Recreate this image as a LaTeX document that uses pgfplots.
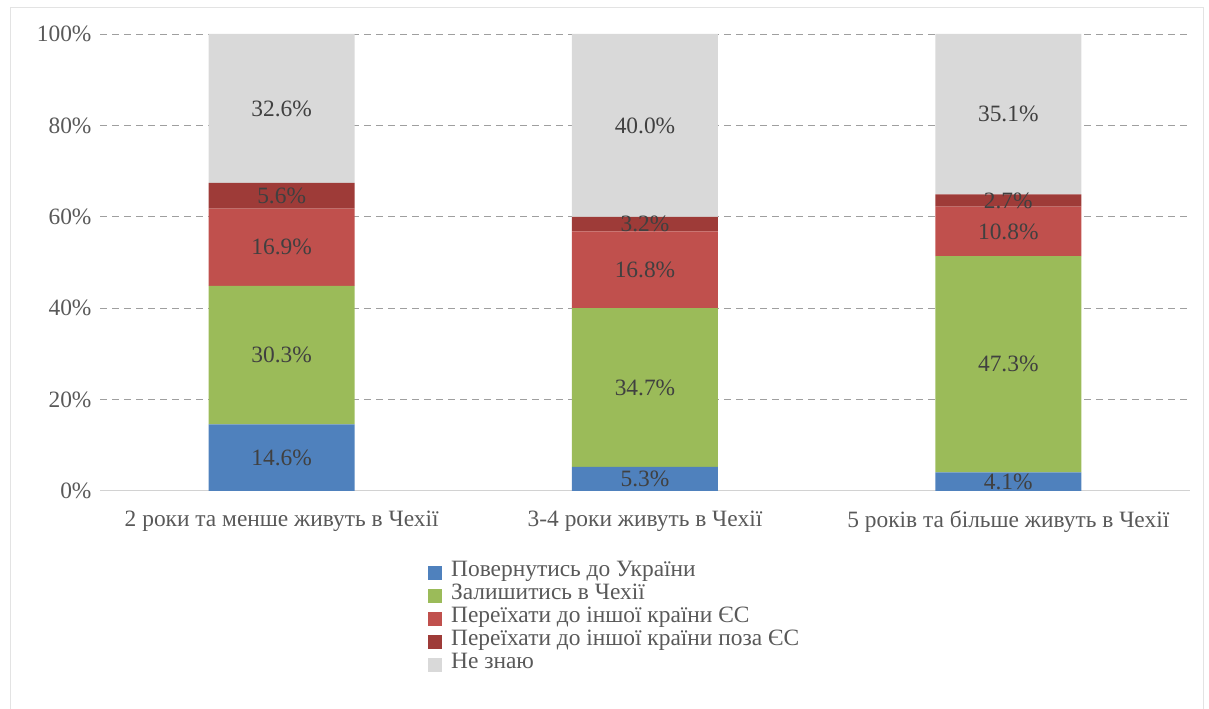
\documentclass[border=0pt]{standalone}
\usepackage{pgfplots}
\pgfplotsset{compat=1.18}
\usepackage{fontspec}
\setmainfont{Liberation Serif}

\definecolor{cBlue}{HTML}{4F81BD}
\definecolor{cGreen}{HTML}{9BBB59}
\definecolor{cRed}{HTML}{C0504D}
\definecolor{cDark}{HTML}{9E3B38}
\definecolor{cGray}{HTML}{D9D9D9}
\definecolor{txt}{HTML}{595959}
\definecolor{lbl}{HTML}{404040}

\pgfplotsset{
  sq legend/.style={legend image code/.code={%
    \fill[##1] (0bp,-7bp) rectangle (14bp,7bp);
    \path (23bp,0bp);}},
  frame/.style={at={(100bp,218bp)}, anchor=south west,
    scale only axis, width=1090bp, height=457bp,
    xmin=-0.5, xmax=2.5, ymin=0, ymax=100},
}
\newcommand\bigfont{\fontsize{23.5}{26}\selectfont}

\begin{document}
\begin{tikzpicture}
\path[use as bounding box] (0,0) rectangle (1209bp,709bp);
\draw[gray!22, line width=1bp] (10bp,0bp) -- (10bp,701bp) -- (1203bp,701bp) -- (1203bp,0bp);
\begin{axis}[
  frame,
  ybar stacked, bar width=146bp,
  axis line style={draw=none}, tick style={draw=none},
  major tick length=0pt,
  xtick={0,1,2},
  xticklabels={2 роки та менше живуть в Чехії, 3-4 роки живуть в Чехії, 5 років та більше живуть в Чехії},
  ytick={20,40,60,80,100},
  yticklabels={20\%,40\%,60\%,80\%,100\%},
  extra y ticks={0}, extra y tick labels={0\%},
  extra y tick style={grid style={solid, draw=gray!35, line width=1bp}},
  ymajorgrids,
  grid style={draw=gray!75, line width=0.9bp, dash pattern=on 7bp off 5bp},
  ticklabel style={font=\bigfont, text=txt},
  xticklabel style={yshift=-16bp},
  yticklabel style={xshift=-5bp},
  legend cell align=left,
  legend style={at={(rel axis cs:0.3009,-0.154)}, anchor=north west, draw=none,
    inner sep=0pt, row sep=0pt,
    nodes={inner sep=0pt, text height=15bp, text depth=8bp, font=\bigfont, text=txt}},
]
\addplot[fill=cBlue, draw=none, sq legend] coordinates {(0,14.6) (1,5.3) (2,4.1)};
\addlegendentry{Повернутись до України}
\addplot[fill=cGreen, draw=none, sq legend] coordinates {(0,30.3) (1,34.7) (2,47.3)};
\addlegendentry{Залишитись в Чехії}
\addplot[fill=cRed, draw=none, sq legend] coordinates {(0,16.9) (1,16.8) (2,10.8)};
\addlegendentry{Переїхати до іншої країни ЄС}
\addplot[fill=cDark, draw=none, sq legend] coordinates {(0,5.6) (1,3.2) (2,2.7)};
\addlegendentry{Переїхати до іншої країни поза ЄС}
\addplot[fill=cGray, draw=none, sq legend] coordinates {(0,32.6) (1,40.0) (2,35.1)};
\addlegendentry{Не знаю}
\end{axis}
% value labels, centred in each segment
\begin{axis}[
  frame, hide axis,
  /pgf/number format/assume math mode=true,
  nodes near coords={\pgfmathprintnumber[fixed, fixed zerofill, precision=1, assume math mode=true]{\pgfplotspointmeta}\%},
  point meta=explicit,
  every node near coord/.style={anchor=center, font=\bigfont, text=lbl},
]
\addplot[draw=none, mark=none] coordinates {
  (0,7.3) [14.6] (0,29.75) [30.3] (0,53.35) [16.9] (0,64.6) [5.6] (0,83.7) [32.6]
  (1,2.65) [5.3] (1,22.65) [34.7] (1,48.4) [16.8] (1,58.4) [3.2] (1,80) [40.0]
  (2,2.05) [4.1] (2,27.75) [47.3] (2,56.8) [10.8] (2,63.55) [2.7] (2,82.45) [35.1]
};
\end{axis}
\end{tikzpicture}
\end{document}
